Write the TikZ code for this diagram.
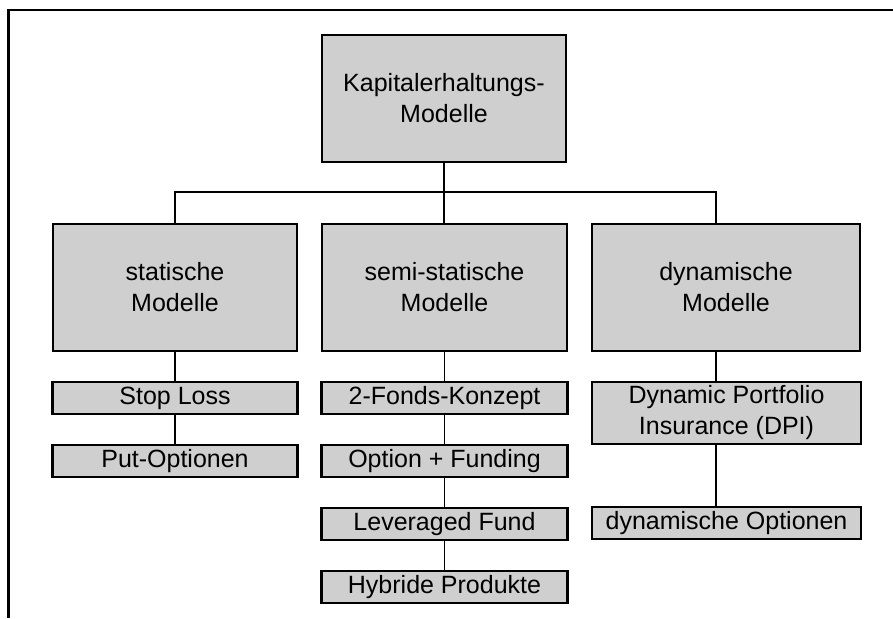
\documentclass[tikz,border=0pt]{standalone}
\usepackage{fontspec}
\setmainfont{Liberation Sans}
\usepackage{tikz}

\tikzset{
    modell/.style={draw, line width=2.2pt, fill=black!19, rectangle, align=center,
        inner sep=0pt, font=\fontsize{25}{31}\selectfont},
    konzept/.style={modell, minimum height=32pt},
    ast/.style={line width=1.9pt}
}

\begin{document}
\begin{tikzpicture}[x=1pt, y=-1pt]
        \useasboundingbox (0,0) rectangle (893,618);

        % page frame (open to the right and bottom)
        \draw[line width=2.2pt] (893,10) -- (8.5,10) -- (8.5,618);

        \node[modell, minimum width=244pt, minimum height=127pt] (kap) at (444,98.5)
            {Kapitalerhaltungs-\\Modelle};

        \node[modell, minimum width=244pt, minimum height=127pt] (stat) at (175,287.5)
            {statische\\Modelle};
        \node[modell, minimum width=245pt, minimum height=127pt] (semi) at (444.5,287.5)
            {semi-statische\\Modelle};
        \node[modell, minimum width=268pt, minimum height=127pt] (dyn) at (726,287.5)
            {dynamische\\Modelle};

        \node[konzept, minimum width=245pt] (stoploss) at (175,398) {Stop Loss};
        \node[konzept, minimum width=245pt] (putopt) at (175,461) {Put-Optionen};

        \node[konzept, minimum width=246pt] (zweifonds) at (444.5,398) {2-Fonds-Konzept};
        \node[konzept, minimum width=246pt] (optfund) at (444.5,461) {Option + Funding};
        \node[konzept, minimum width=246pt] (leverage) at (444.5,524) {Leveraged Fund};
        \node[konzept, minimum width=246pt] (hybrid) at (444.5,587) {Hybride Produkte};

        \node[konzept, minimum width=269pt, minimum height=62pt] (dpi) at (726.5,413)
            {Dynamic Portfolio\\Insurance (DPI)};
        \node[konzept, minimum width=269pt] (dynopt) at (726.5,523) {dynamische Optionen};

        \coordinate (dynaxis) at (716,0);

        % tree
        \draw[ast] (kap.south) -- (kap.south |- semi.north);
        \draw[ast] (stat.north) -- ++(0,-31) -| (dynaxis |- dyn.north);

        \draw[ast] (stat) -- (stoploss);
        \draw[ast] (stoploss) -- (putopt);

        \draw[ast] (semi) -- (zweifonds);
        \draw[ast] (zweifonds) -- (optfund);
        \draw[ast] (optfund) -- (leverage);
        \draw[ast] (leverage) -- (hybrid);

        \draw[ast] (dyn.south -| dynaxis) -- (dpi.north -| dynaxis);
        \draw[ast] (dpi.south -| dynaxis) -- (dynopt.north -| dynaxis);

    \end{tikzpicture}
\end{document}
